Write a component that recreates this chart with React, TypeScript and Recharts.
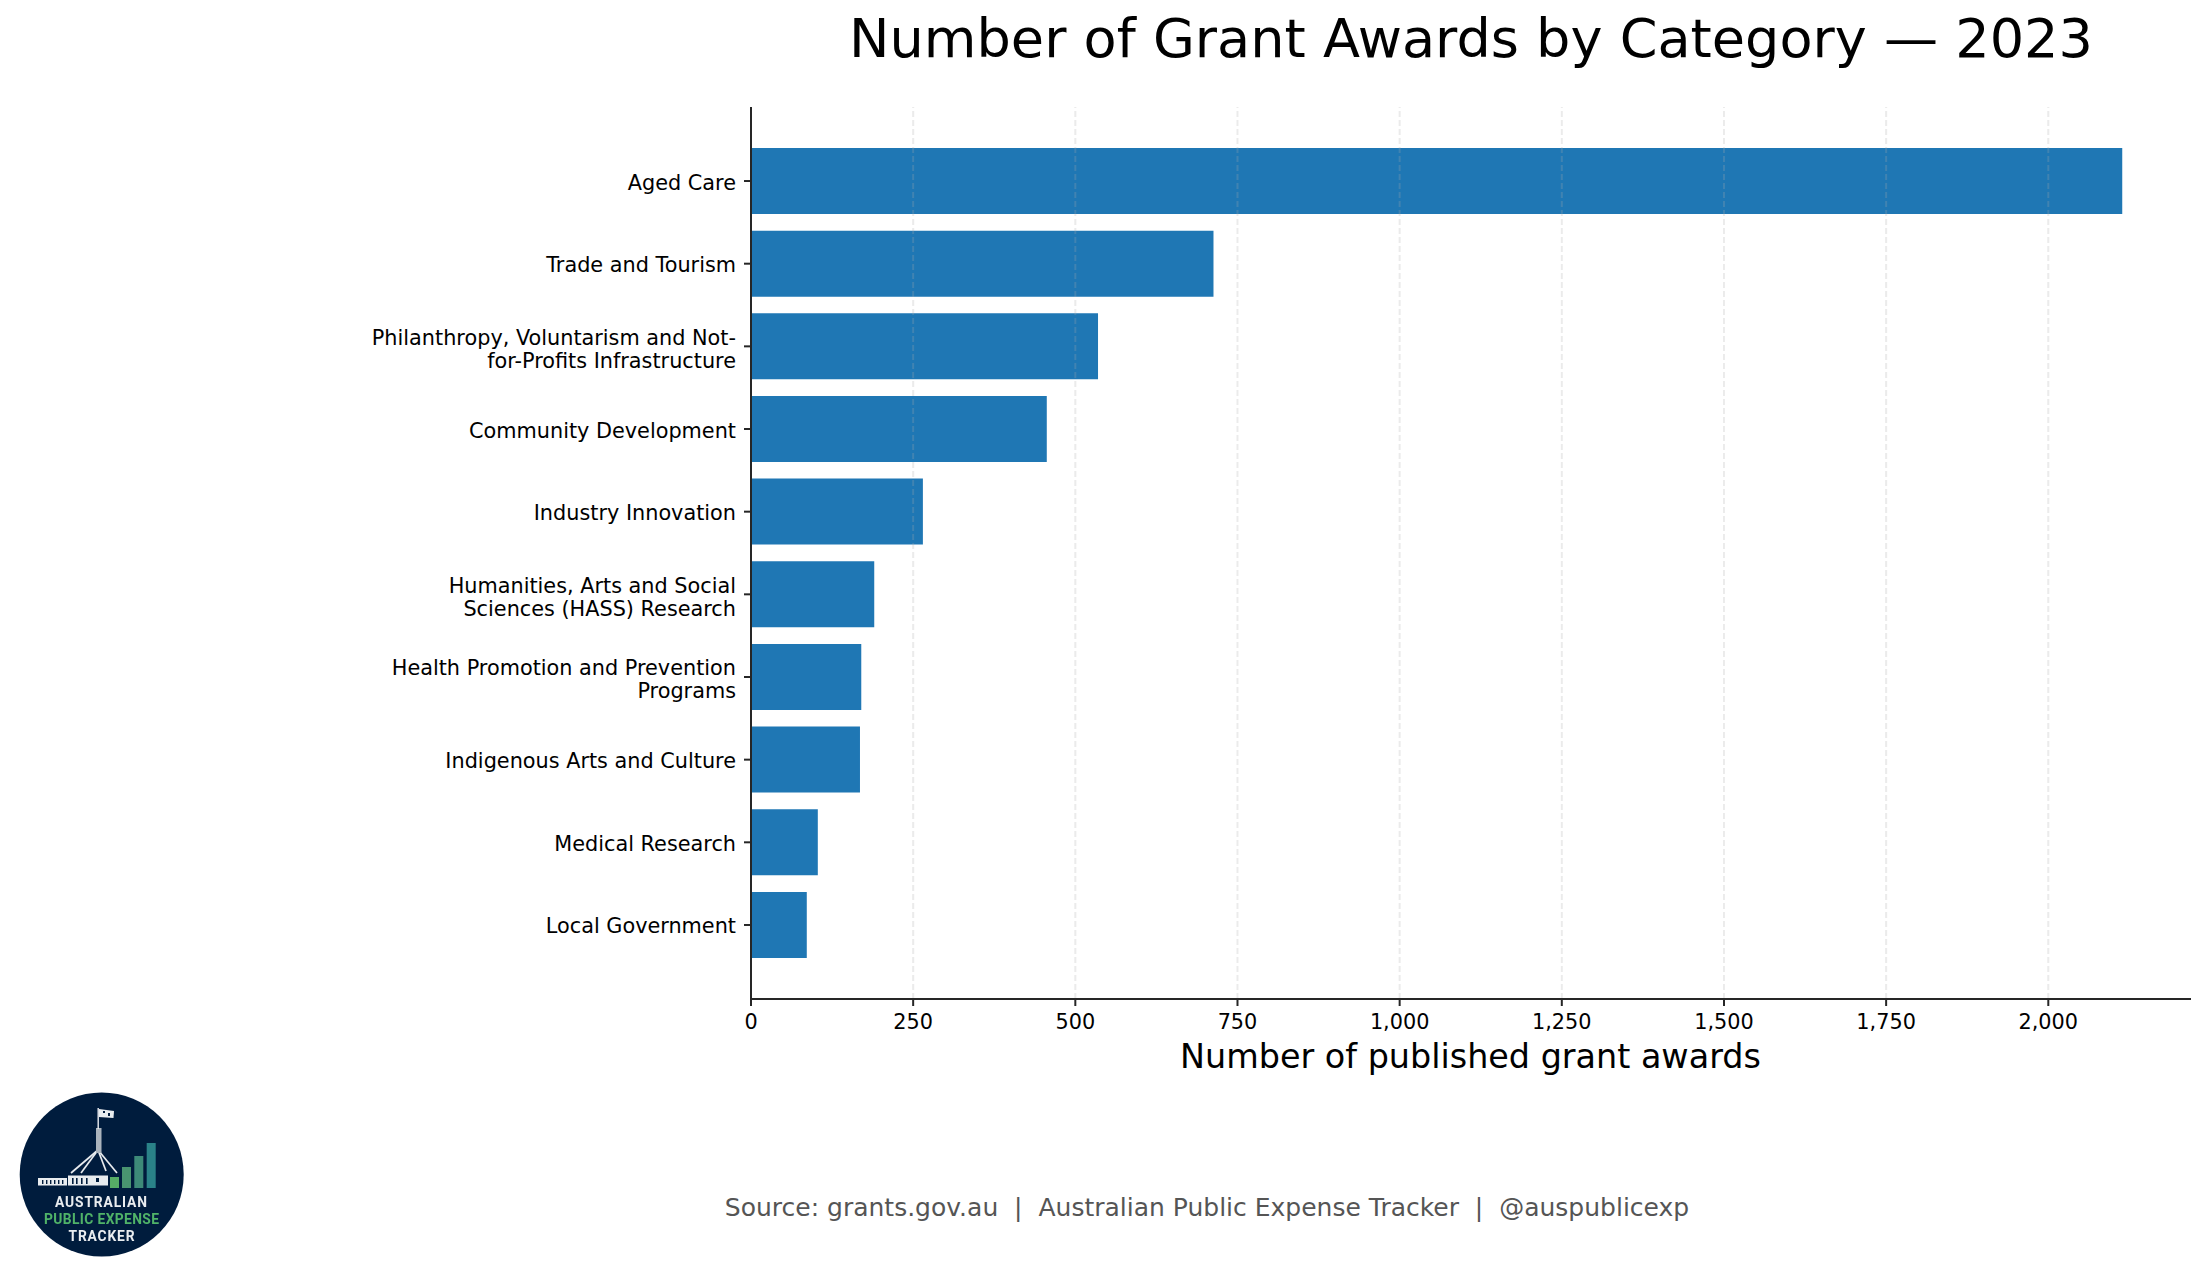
import React from "react";
import { BarChart, Bar, XAxis, YAxis, ReferenceLine } from "recharts";

const categories = [
  "Aged Care",
  "Trade and Tourism",
  "Philanthropy, Voluntarism and Not-\nfor-Profits Infrastructure",
  "Community Development",
  "Industry Innovation",
  "Humanities, Arts and Social\nSciences (HASS) Research",
  "Health Promotion and Prevention\nPrograms",
  "Indigenous Arts and Culture",
  "Medical Research",
  "Local Government",
];
const awards = [2114, 713, 535, 456, 265, 190, 170, 168, 103, 86];
const xTicks = [0, 250, 500, 750, 1000, 1250, 1500, 1750, 2000];
const gridTicks = [250, 500, 750, 1000, 1250, 1500, 1750, 2000];
const titleText = "Number of Grant Awards by Category — 2023";
const xLabelText = "Number of published grant awards";
const sourceText = "Source: grants.gov.au  |  Australian Public Expense Tracker  |  @auspublicexp";
const logoLines = ["AUSTRALIAN", "PUBLIC EXPENSE", "TRACKER"];

const data = categories.map((name, i) => ({ name, awards: awards[i] }));
const FONT = "'DejaVu Sans', sans-serif";
const INK = "#262626";

function CategoryTick(props: any) {
  const { x, y, payload } = props;
  const lines: string[] = String(payload.value).split("\n");
  const lh = 23;
  const start = -((lines.length - 1) * lh) / 2;
  const shift = lines.length > 1 ? 9.8 : 8.5;
  return (
    <text x={x} y={y} textAnchor="end" fontFamily={FONT} fontSize={20.8} fill="#000">
      {lines.map((l, i) => (
        <tspan key={i} x={x} y={y + start + i * lh + shift}>{l}</tspan>
      ))}
    </text>
  );
}

function Logo() {
  const barX = [110, 122, 134.3, 146.7];
  const barTop = [1177, 1167, 1156, 1143];
  const barFill = ["#57ad66", "#4a9470", "#3d8a78", "#2b8288"];
  const wingSlits = [42, 46, 50, 54, 58, 62];
  const hallWindows = [72, 76, 81, 86];
  return (
    <g>
      <filter id="soft" x="-5%" y="-5%" width="110%" height="110%">
        <feGaussianBlur stdDeviation="0.45" />
      </filter>
      <g filter="url(#soft)">
        <circle cx={101.7} cy={1174.5} r={82} fill="#051d3e" />
        {barX.map((bx, i) => (
          <rect key={i} x={bx} y={barTop[i]} width={9} height={1188 - barTop[i]} fill={barFill[i]} />
        ))}
        <g stroke="#e8ecef" strokeWidth={1.7}>
          <line x1={98} y1={1150} x2={71} y2={1173} />
          <line x1={98} y1={1150} x2={81} y2={1173} />
          <line x1={98} y1={1150} x2={106} y2={1171} />
          <line x1={98} y1={1150} x2={117} y2={1173} />
        </g>
        <g fill="#e8ecef" stroke="none">
          <rect x={96} y={1128} width={5.5} height={25} fill="#aab3bc" />
          <rect x={97.5} y={1108} width={1.4} height={21} />
          <path d="M99 1109 L114 1111 L113.5 1118 L99 1117 Z" />
          <rect x={38} y={1178} width={29} height={7.5} />
          <rect x={68} y={1175.5} width={40} height={10} />
        </g>
        <g fill="#051d3e">
          <rect x={103} y={1111} width={2} height={2} />
          <rect x={108} y={1113} width={2} height={3} />
          {wingSlits.map((sx) => (
            <rect key={sx} x={sx} y={1180} width={1.4} height={4} />
          ))}
          {hallWindows.map((sx) => (
            <rect key={sx} x={sx} y={1178} width={1.6} height={6} />
          ))}
          <rect x={96} y={1178} width={3} height={4} />
        </g>
        <g fontFamily="Roboto, sans-serif" fontWeight={700} fontSize={13.8} textAnchor="middle">
          <text x={101} y={1207} fill="#e9edf0" textLength={92} lengthAdjust="spacing">{logoLines[0]}</text>
          <text x={101.5} y={1224} fill="#4fb368" textLength={115} lengthAdjust="spacing">{logoLines[1]}</text>
          <text x={101.5} y={1240.5} fill="#e9edf0" textLength={66} lengthAdjust="spacing">{logoLines[2]}</text>
        </g>
      </g>
    </g>
  );
}

export default function App() {
  return (
    <div style={{ position: "absolute", left: 0, top: 0, width: 2205, height: 1277, background: "#fff" }}>
      <BarChart
        width={2205}
        height={1277}
        data={data}
        layout="vertical"
        margin={{ top: 107, left: 351, right: 14, bottom: 218 }}
        barCategoryGap="10%"
      >
        <XAxis
          type="number"
          domain={[0, 2220]}
          ticks={xTicks}
          allowDataOverflow
          height={60}
          tickSize={7}
          tickMargin={8}
          tickFormatter={(v: number) => v.toLocaleString("en-US")}
          tick={{ fontFamily: FONT, fontSize: 20.8, fill: "#000" }}
          axisLine={{ stroke: INK, strokeWidth: 2 }}
          tickLine={{ stroke: INK, strokeWidth: 2 }}
          interval={0}
        />
        <YAxis
          type="category"
          dataKey="name"
          width={400}
          interval={0}
          tickSize={7}
          tickMargin={8}
          tick={<CategoryTick />}
          padding={{ top: 32.7, bottom: 32.7 }}
          axisLine={{ stroke: INK, strokeWidth: 2 }}
          tickLine={{ stroke: INK, strokeWidth: 2 }}
        />
        <Bar dataKey="awards" fill="#1f77b4" isAnimationActive={false} />
        {gridTicks.map((t) => (
          <ReferenceLine key={t} x={t} stroke="#aaaaaa" strokeOpacity={0.24} strokeWidth={2} strokeDasharray="6 3" />
        ))}
      </BarChart>
      <svg width={2205} height={1277} style={{ position: "absolute", left: 0, top: 0, pointerEvents: "none" }}>
        <text x={1471} y={56.5} textAnchor="middle" fontFamily={FONT} fontSize={54.1} fill="#000">{titleText}</text>
        <text x={1470.5} y={1068} textAnchor="middle" fontFamily={FONT} fontSize={33.4} fill="#000">{xLabelText}</text>
        <text x={1207} y={1215.5} textAnchor="middle" fontFamily={FONT} fontSize={25} fill="#555" style={{ whiteSpace: "pre" }} xmlSpace="preserve">{sourceText}</text>
        <Logo />
      </svg>
    </div>
  );
}
